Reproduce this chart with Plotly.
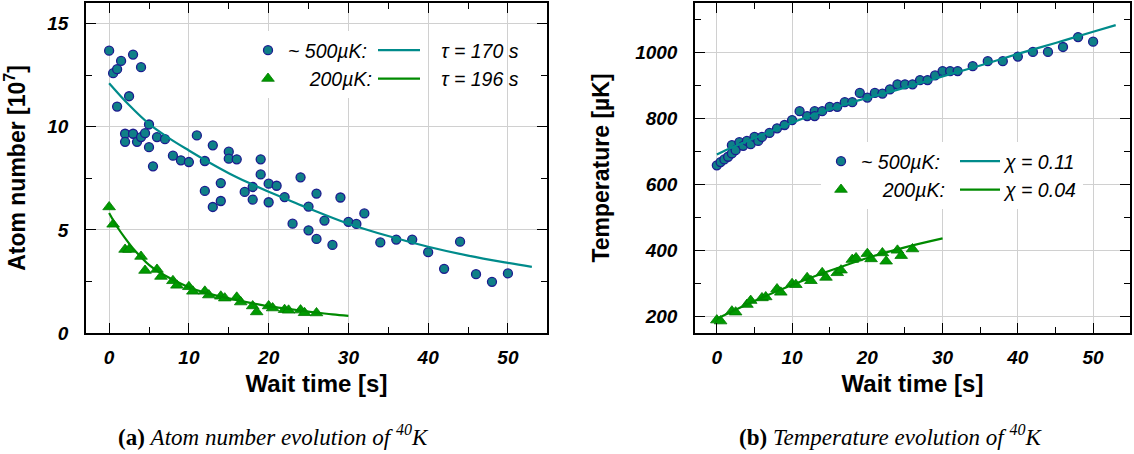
import plotly.graph_objects as go

# ---------------- data ----------------
# (a) atom number [1e7] vs wait time [s]
hot_t = [0, 0.5, 1, 1.5, 1, 2.5, 3, 4, 2, 2, 3, 3.5, 4, 4.5, 5, 5, 5.5, 6, 7, 8, 9, 10,
         11, 12, 12, 13, 13, 14, 14, 15, 15, 16, 17, 18, 18, 19, 19, 20, 20, 21, 22, 23,
         24, 25, 25, 26, 26, 27, 28, 29, 30, 31, 32, 34, 36, 38, 40, 42, 44, 46, 48, 50]
hot_n = [13.69, 12.6, 12.79, 13.19, 10.98, 11.48, 13.5, 12.89, 9.66, 9.27, 9.66, 9.27,
         9.5, 9.69, 10.11, 9.01, 8.08, 9.5, 9.4, 8.6, 8.37, 8.29, 9.58, 8.34, 6.89, 9.1,
         6.11, 7.27, 6.4, 8.79, 8.45, 8.42, 6.84, 7.08, 6.47, 8.42, 7.69, 7.24, 6.34, 7.14,
         6.59, 5.3, 7.55, 6.13, 4.98, 6.76, 4.56, 5.45, 4.27, 6.57, 5.39, 5.29, 5.8, 4.39,
         4.53, 4.53, 3.92, 3.11, 4.43, 2.85, 2.48, 2.89]
cold_t = [0, 0.5, 2, 2.5, 4, 4.5, 6, 6.5, 8, 8.5, 10, 10.5, 12, 12.5, 14, 14.5, 16, 16.5,
          18, 18.5, 20, 20.5, 22, 22.5, 24, 24.5, 26]
cold_n = [6.11, 5.27, 4.05, 4.05, 3.71, 3.03, 3.08, 2.74, 2.53, 2.31, 2.24, 2.02, 2.02,
          1.84, 1.78, 1.69, 1.73, 1.5, 1.31, 1.02, 1.31, 1.21, 1.13, 1.1, 1.11, 0.98, 0.97]
# fit curves
hot_fit_t = [0, 2.5, 5, 7.5, 10, 12.5, 15, 17.5, 20, 22.5, 25, 30, 35, 40, 45, 50, 53]
hot_fit_n = [12.11, 11.05, 10.14, 9.45, 8.85, 8.28, 7.75, 7.28, 6.85, 6.45, 6.05, 5.3,
             4.7, 4.18, 3.75, 3.4, 3.21]
cold_fit_t = [0, 1, 2, 3, 4, 5, 6, 8, 10, 12, 15, 18, 20, 22, 25, 28, 30]
cold_fit_n = [5.82, 5.15, 4.6, 4.1, 3.68, 3.3, 3.02, 2.58, 2.22, 1.96, 1.68, 1.44, 1.3,
              1.19, 1.04, 0.9, 0.83]

# (b) temperature [uK] vs wait time [s]
hotT_t = [0, 0.5, 1, 1.5, 2, 2, 2.5, 3, 3.5, 4, 4.5, 5, 5.5, 6, 7, 8, 9, 10, 11, 12, 13,
          13, 14, 15, 16, 17, 18, 19, 20, 21, 22, 23, 24, 25, 26, 27, 28, 29, 30, 31, 32,
          34, 36, 38, 40, 42, 44, 46, 48, 50]
hotT_T = [658, 668, 676, 684, 694, 719, 704, 728, 717, 732, 722, 744, 732, 744, 756, 770,
          780, 795, 822, 807, 822, 807, 822, 835, 835, 849, 849, 877, 863, 877, 875, 888,
          903, 903, 903, 916, 916, 930, 943, 943, 943, 958, 973, 973, 987, 1001, 1001,
          1016, 1046, 1032]
coldT_t = [0, 0.5, 2, 2.5, 4, 4.5, 6, 6.5, 8, 8.5, 10, 10.5, 12, 12.5, 14, 14.5, 16, 16.5,
           18, 18.5, 20, 20.5, 22, 22.5, 24, 24.5, 26]
coldT_T = [190, 187, 217, 214, 237, 249, 257, 260, 284, 274, 300, 297, 318, 309, 333, 319,
           333, 341, 373, 378, 391, 375, 393, 368, 401, 385, 405]
hotT_fit_t = [0, 2, 4, 6, 8, 10, 12, 14, 16, 18, 20, 22, 25, 30, 35, 40, 45, 50, 53]
hotT_fit_T = [691, 712, 731, 750, 769, 787, 804, 820, 835, 849, 862, 874, 893, 927, 960,
              995, 1028, 1062, 1082]
coldT_fit_t = [0, 5, 10, 15, 20, 25, 30]
coldT_fit_T = [194, 248, 296, 339, 378, 410, 437]

NB = "\u00a0"
hot_label = "~ 500µK:"
cold_label = NB * 4 + "200µK:"
tau_labels = [NB * 3 + "τ = 170 s", NB * 3 + "τ = 196 s"]
chi_labels = ["χ = 0.11", "χ = 0.04"]
# trailing blanks widen the white legend boxes a little
PAD_A = NB * 7
PAD_B = NB * 2

# ---------------- style ----------------
TEAL_FILL = "#0f8087"
NAVY = "#1c1c8f"
TEAL_LINE = "#008b8b"
GREEN = "#009a00"
GREEN_EDGE = "#007a00"
GREEN_LINE = "#008a00"
SANS = "Liberation Sans"

circ = dict(symbol="circle", size=9, color=TEAL_FILL, line=dict(color=NAVY, width=1.3))
tri = dict(symbol="triangle-up", size=11, color=GREEN, line=dict(color=GREEN_EDGE, width=0.8))

fig = go.Figure()

# panel (a)
fig.add_trace(go.Scatter(x=hot_t, y=hot_n, mode="markers", marker=circ, name=hot_label + PAD_A,
                         xaxis="x", yaxis="y", legend="legend"))
fig.add_trace(go.Scatter(x=cold_t, y=cold_n, mode="markers", marker=tri, name=cold_label + PAD_A,
                         xaxis="x", yaxis="y", legend="legend"))
fig.add_trace(go.Scatter(x=hot_fit_t, y=hot_fit_n, mode="lines", line=dict(color=TEAL_LINE, width=2.2, shape="spline"),
                         name=tau_labels[0], xaxis="x", yaxis="y", legend="legend2"))
fig.add_trace(go.Scatter(x=cold_fit_t, y=cold_fit_n, mode="lines", line=dict(color=GREEN_LINE, width=2.2, shape="spline"),
                         name=tau_labels[1], xaxis="x", yaxis="y", legend="legend2"))
# panel (b)
fig.add_trace(go.Scatter(x=hotT_t, y=hotT_T, mode="markers", marker=circ, name=hot_label + PAD_B,
                         xaxis="x2", yaxis="y2", legend="legend3"))
fig.add_trace(go.Scatter(x=coldT_t, y=coldT_T, mode="markers", marker=tri, name=cold_label + PAD_B,
                         xaxis="x2", yaxis="y2", legend="legend3"))
fig.add_trace(go.Scatter(x=hotT_fit_t, y=hotT_fit_T, mode="lines", line=dict(color=TEAL_LINE, width=2.2, shape="spline"),
                         name=chi_labels[0], xaxis="x2", yaxis="y2", legend="legend4"))
fig.add_trace(go.Scatter(x=coldT_fit_t, y=coldT_fit_T, mode="lines", line=dict(color=GREEN_LINE, width=2.2, shape="spline"),
                         name=chi_labels[1], xaxis="x2", yaxis="y2", legend="legend4"))

W, H = 1134, 454
def px_x(p):
    return p / W
def px_y(p):
    return 1 - p / H

tickfont = dict(family=SANS, size=19, color="black", weight="bold", style="italic")
xtitlefont = dict(family=SANS, size=24, color="black", weight="bold")
ytitlefont = dict(family=SANS, size=23, color="black", weight="bold")

def xaxis_cfg(domain, anchor):
    return dict(domain=domain, anchor=anchor, range=[-2.9, 54.9], tickmode="array",
                tickvals=[0, 10, 20, 30, 40, 50], ticks="inside", ticklen=10, tickwidth=1.3,
                tickcolor="black", mirror="ticks", showline=True, linecolor="black", linewidth=1.5,
                showgrid=True, gridcolor="#d0d0d0", gridwidth=1, zeroline=False, automargin=False,
                minor=dict(tickvals=[5, 15, 25, 35, 45], ticks="inside", ticklen=6,
                           tickcolor="black", showgrid=False),
                tickfont=tickfont, ticklabelstandoff=6,
                title=dict(text="Wait time [s]", font=xtitlefont, standoff=9))

def yaxis_cfg(domain, anchor, rng, major, minor, title):
    return dict(domain=domain, anchor=anchor, range=rng, tickmode="array", tickvals=major,
                ticks="inside", ticklen=10, tickwidth=1.3, tickcolor="black", mirror="ticks",
                showline=True, linecolor="black", linewidth=1.5, showgrid=True,
                gridcolor="#d0d0d0", gridwidth=1, zeroline=False, automargin=False,
                minor=dict(tickvals=minor, ticks="inside", ticklen=6, tickcolor="black", showgrid=False),
                tickfont=tickfont, ticklabelstandoff=12,
                title=dict(text=title, font=ytitlefont, standoff=19))

ydom = [px_y(333), px_y(3)]
legfont = dict(family=SANS, size=19.5, color="black", style="italic")
CLEAR = "rgba(0,0,0,0)"

fig.update_layout(
    width=W, height=H, margin=dict(l=0, r=0, t=0, b=0, autoexpand=False),
    paper_bgcolor="white", plot_bgcolor="white",
    xaxis=xaxis_cfg([px_x(86), px_x(547)], "y"),
    yaxis=yaxis_cfg(ydom, "x", [0, 16], [0, 5, 10, 15], [2.5, 7.5, 12.5], "Atom number [10<sup>7</sup>]"),
    xaxis2=xaxis_cfg([px_x(695), px_x(1130)], "y2"),
    yaxis2=yaxis_cfg(ydom, "x2", [151, 1149], [200, 400, 600, 800, 1000], [300, 500, 700, 900, 1100],
                     "Temperature [µK]"),
    legend=dict(x=px_x(248), y=px_y(31), xanchor="left", yanchor="top", bgcolor="white",
                font=legfont, tracegroupgap=0, itemclick=False),
    legend2=dict(x=px_x(373), y=px_y(31), xanchor="left", yanchor="top", bgcolor=CLEAR,
                 font=legfont, tracegroupgap=0, itemclick=False, itemwidth=42),
    legend3=dict(x=px_x(821), y=px_y(142), xanchor="left", yanchor="top", bgcolor="white",
                 font=legfont, tracegroupgap=0, itemclick=False),
    legend4=dict(x=px_x(955), y=px_y(142), xanchor="left", yanchor="top", bgcolor="white",
                 font=legfont, tracegroupgap=0, itemclick=False, traceorder="normal", itemwidth=40),
    annotations=[
        dict(text="<b>(a)</b> <i>Atom number evolution of <sup>40</sup>K</i>", x=px_x(273), y=px_y(435),
             xref="paper", yref="paper", showarrow=False, xanchor="center", yanchor="middle",
             font=dict(family="Liberation Serif", size=23, color="black")),
        dict(text="<b>(b)</b> <i>Temperature evolution of <sup>40</sup>K</i>", x=px_x(891), y=px_y(435),
             xref="paper", yref="paper", showarrow=False, xanchor="center", yanchor="middle",
             font=dict(family="Liberation Serif", size=23, color="black")),
    ],
)

fig.write_html("out.html", config={"displayModeBar": False},
               post_script="document.body.style.margin='0px';")
